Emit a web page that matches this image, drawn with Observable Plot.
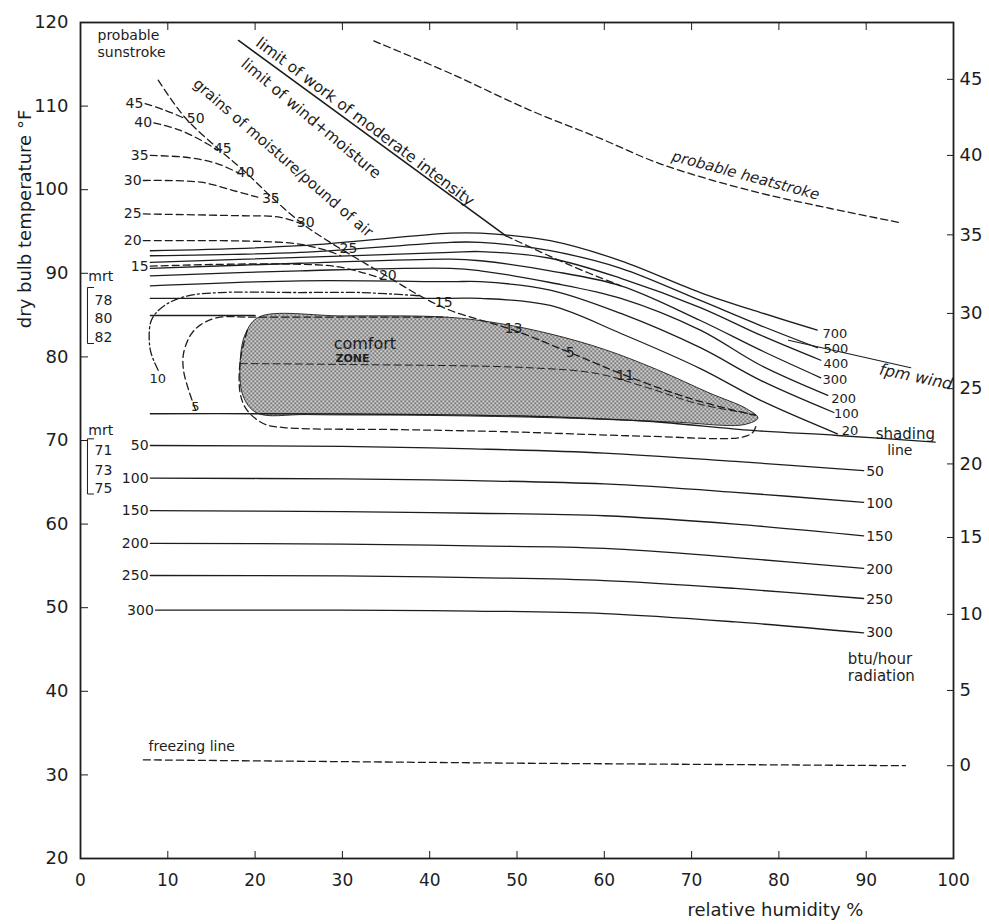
<!DOCTYPE html>
<html><head><meta charset="utf-8">
<script src="https://cdn.jsdelivr.net/npm/d3@7"></script>
<script src="https://cdn.jsdelivr.net/npm/@observablehq/plot@0.6"></script>
<style>
body{margin:0;background:#fff;}
svg text{font-family:"DejaVu Sans",sans-serif;}
</style></head><body><div id="chart"></div>
<script>
const INK = "#1d1d1d";
// axes
const xTicks = [0,10,20,30,40,50,60,70,80,90,100];
const yTicks = [20,30,40,50,60,70,80,90,100,110,120];
const topTicks = [10,20,30,40,50,60,70,80,90];
const celsiusTickF = [113.2,104.1,94.6,85.2,76.2,67.2,58.4,49.2,40.1,31.1];
const celsiusTickLabels = ["45","40","35","30","25","20","15","10","5","0"];

// wind lines (fpm) [RH %, °F]
const wind700 = [[8,92.7],[25.2,93.3],[42.4,94.8],[45.8,94.8],[53.8,93.9],[61.9,91.5],[71.0,87.7],[77.9,85.3],[84.4,83.2]];
const wind500 = [[8,92.1],[25.2,92.5],[42.4,93.7],[45.8,93.7],[53.8,92.7],[61.9,90.6],[71.0,86.75],[77.9,83.75],[84.4,81.1]];
const wind400 = [[8,91.3],[25.2,91.9],[42.4,92.5],[45.8,92.6],[53.8,91.8],[61.9,89.4],[71.0,85.9],[77.9,82.6],[84.8,79.6]];
const wind300 = [[8,90.6],[25.2,91.2],[42.4,91.7],[45.8,91.5],[53.8,90.3],[61.9,88.5],[71.0,84.35],[77.9,80.8],[84.8,77.5]];
const wind200 = [[8,89.7],[25.2,90.3],[42.4,90.6],[45.8,90.3],[53.8,88.9],[61.9,87.0],[71.0,83.2],[77.9,79.0],[85.6,75.4]];
const wind100 = [[8,88.5],[25.2,89.1],[42.4,89.0],[45.8,89.0],[53.8,88.0],[61.9,85.2],[71.0,81.1],[77.9,77.2],[86.3,73.35]];
const wind20  = [[8,87.0],[25.2,87.0],[42.4,87.0],[45.8,87.0],[53.8,86.15],[61.9,82.8],[71.0,78.6],[77.9,74.8],[86.7,70.8]];
const windSeries = [wind700, wind500, wind400, wind300, wind200, wind100, wind20];
const windLabels = ["700","500","400","300","200","100","20"];
const windLabelRH = [85.0,85.1,85.1,85.0,86.0,86.3,87.2];
const windLabelF = [82.8,81.0,79.2,77.2,75.0,73.2,71.1];
const windPointer = [[81.1,82.0],[95.1,78.7]];

// radiation lines (btu/hour)
const rad50  = [[8,69.4],[30,69.3],[45,69.0],[60,68.5],[75,67.5],[89.7,66.4]];
const rad100 = [[8,65.5],[30,65.4],[45,65.2],[60,64.8],[75,63.8],[89.7,62.6]];
const rad150 = [[8,61.6],[30,61.5],[45,61.3],[60,61.0],[75,60.0],[89.7,58.6]];
const rad200 = [[8,57.7],[30,57.6],[45,57.4],[60,57.1],[75,56.0],[89.7,54.7]];
const rad250 = [[8,53.85],[30,53.8],[45,53.6],[60,53.25],[75,52.3],[89.7,51.1]];
const rad300 = [[8.6,49.7],[30,49.7],[45,49.6],[60,49.3],[75,48.3],[89.7,47.0]];
const radSeries = [rad50, rad100, rad150, rad200, rad250, rad300];
const radLabels = ["50","100","150","200","250","300"];
const radRightF = [66.3,62.5,58.5,54.6,51.0,47.0];

// grains of moisture lines
const grain45 = [[7.4,110.3],[9.7,109.5],[12.0,108.5]];
const grain40 = [[8.4,108.0],[11.45,107.1],[14.5,105.5],[15.7,104.7]];
const grain35 = [[8.0,104.1],[12.3,103.85],[15.7,103.1],[18.3,101.9]];
const grain30 = [[7.2,101.1],[13.75,100.9],[17.5,99.9],[20.3,99.1]];
const grain25 = [[7.2,97.1],[17.5,96.9],[22.9,96.7],[25.2,95.95]];
const grain20 = [[7.2,93.9],[24.2,93.6],[28.3,92.7],[29.8,92.1]];
const grain15 = [[8.0,90.85],[29.0,90.85],[34.4,89.4]];
const grainSeries = [grain45, grain40, grain35, grain30, grain25, grain20, grain15];
const grainLabels = ["45","40","35","30","25","20","15"];
const grain10 = [[8.9,78.4],[8.0,80.8],[8.0,84.0],[8.6,85.2],[10.0,86.4],[12.3,87.3],[16.0,87.7],[25.2,87.7],[32.1,87.7],[38.9,87.3]];
const grain5 = [[13.2,73.6],[12.4,76.0],[11.8,78.4],[11.8,80.4],[12.6,82.6],[13.7,83.8],[15.7,84.7],[20.0,84.75],[42,84.75]];
const grainDiagonal = [[8.9,113.1],[12.0,108.6],[16.0,104.7],[18.9,102.1],[21.8,99.2],[25.2,96.1],[28.6,93.7],[32.1,91.5],[35.5,89.4],[38.9,87.3],[42.4,85.55],[49.6,83.2],[56.1,80.5],[62.4,77.8],[69.9,75.0],[77.3,73.0]];
const diagLabels = ["50","45","40","35","30","25","20","15","13","5","11"];
const diagLabelRH = [13.2,16.3,18.9,21.8,25.8,30.7,35.2,41.6,49.6,56.1,62.4];
const diagLabelF = [108.5,104.9,102.1,98.9,96.1,93.0,89.7,86.5,83.4,80.5,77.8];

// comfort zone
const comfortZone = [[20.5,84.8],[30,84.9],[42,84.75],[48,84.0],[54,82.7],[60,80.9],[66,78.5],[72,75.7],[76.3,73.8],[77.6,72.7],[76,71.9],[68,72.2],[55,72.7],[40,73.0],[26,73.1],[20.2,73.3],[18.6,75.4],[18.3,79.6],[18.9,82.8]];
const comfortInner = [[18.3,79.2],[30,79.1],[51.5,78.7],[59.2,78.0],[65.0,76.3],[70.7,74.4],[77.3,73.1]];
const comfortLower = [[19.1,83.16],[18.3,79.57],[18.3,75.6],[19.1,73.6],[21.0,72.0],[23.3,71.55],[36.65,71.3],[48.1,71.07],[65.3,70.5],[75.6,70.36],[77.0,70.96],[77.4,71.8]];
const comfortUpperLine = [[8,84.95],[20,84.95]];
const shadingLine = [[8,73.2],[20,73.2],[40,73.1],[55,72.8],[65,72.3],[77,71.2],[86.7,70.6],[97.9,69.8]];

// limits
const limitWorkSolid = [[18.1,117.85],[48.7,94.5]];
const limitWorkDashed = [[48.7,94.5],[56,91.0],[61.9,88.5]];
const heatstroke = [[33.6,117.8],[42.4,113.9],[51.5,109.5],[59.6,106.1],[66.4,103.1],[76.7,99.9],[85.9,97.75],[93.7,96.1]];
const freezing = [[7.2,31.8],[50,31.4],[94.5,31.1]];

// mrt brackets
const mrtUpperBracket = [[1.5,88.3],[0.8,88.3],[0.8,81.6],[1.5,81.6]];
const mrtLowerBracket = [[1.5,70.2],[0.8,70.2],[0.8,63.6],[1.5,63.6]];
const mrtUpper = [{t:"mrt",rh:0.9,f:89.6},{t:"78",rh:1.6,f:86.75},{t:"80",rh:1.6,f:84.6},{t:"82",rh:1.6,f:82.3}];
const mrtLower = [{t:"mrt",rh:0.9,f:71.2},{t:"71",rh:1.6,f:68.8},{t:"73",rh:1.6,f:66.4},{t:"75",rh:1.6,f:64.3}];

// free annotations
const notesStart = [
  {t:"probable",rh:1.95,f:118.4,s:14},{t:"sunstroke",rh:1.95,f:116.4,s:14},
  {t:"freezing line",rh:7.8,f:33.4,s:14},
  {t:"btu/hour",rh:87.9,f:43.9,s:15},{t:"radiation",rh:87.9,f:41.8,s:15},
  {t:"shading",rh:91.1,f:70.8,s:15},{t:"line",rh:92.4,f:68.8,s:14},
  {t:"comfort",rh:29.0,f:81.6,s:16},{t:"10",rh:7.9,f:77.4,s:13},{t:"5",rh:12.7,f:74.0,s:13}
];
const rotatedNotes = [
  {t:"limit of work of moderate intensity",rh:32.6,f:108.1,r:37,s:15.5},
  {t:"limit of wind+moisture",rh:26.4,f:108.5,r:40,s:15.5},
  {t:"grains of moisture/pound of air",rh:23.2,f:103.8,r:41,s:15},
  {t:"probable heatstroke",rh:76.2,f:101.7,r:15,s:15},
  {t:"fpm wind",rh:95.7,f:77.6,r:12,s:16}
];
const axisTitles = [
  {t:"dry bulb temperature °F",rh:-6.3,f:96.5,r:-90,ls:1.5},
  {t:"relative humidity %",rh:79.6,f:13.8,r:0,ls:1}
];

const X = d => d[0], Y = d => d[1];
const solid = (pts, o={}) => Plot.line(pts, {x:X, y:Y, stroke:INK, strokeWidth:1.3, curve:"catmull-rom", ...o});
const dashed = (pts, o={}) => solid(pts, {strokeDasharray:"7,4", ...o});

const marks = [];
// comfort zone fill
marks.push(Plot.line(comfortZone, {x:X, y:Y, fill:"url(#stipple)", stroke:INK, strokeWidth:0.9, curve:"catmull-rom-closed"}));
marks.push(dashed(comfortInner, {strokeWidth:1}));
marks.push(dashed(comfortLower));
marks.push(solid(comfortUpperLine));
marks.push(solid(shadingLine));
windSeries.forEach(s => marks.push(solid(s)));
marks.push(solid(windPointer, {curve:"linear", strokeWidth:1.1}));
radSeries.forEach(s => marks.push(solid(s)));
grainSeries.forEach(s => marks.push(dashed(s)));
marks.push(dashed(grain10, {strokeDasharray:"8,3,2,3"}));
marks.push(dashed(grain5));
marks.push(dashed(grainDiagonal));
marks.push(solid(limitWorkSolid, {curve:"linear", strokeWidth:1.6}));
marks.push(dashed(limitWorkDashed));
marks.push(dashed(heatstroke));
marks.push(dashed(freezing, {curve:"linear"}));
marks.push(solid(mrtUpperBracket, {curve:"linear", strokeWidth:1}));
marks.push(solid(mrtLowerBracket, {curve:"linear", strokeWidth:1}));

// labels
const txt = (data, o) => Plot.text(data, {fill:INK, lineAnchor:"middle", ...o});
marks.push(txt(windLabels, {x:(d,i)=>windLabelRH[i], y:(d,i)=>windLabelF[i], text:d=>d, textAnchor:"start", fontSize:13}));
marks.push(txt(radLabels, {x:(d,i)=>radSeries[i][0][0]-0.2, y:(d,i)=>radSeries[i][0][1], text:d=>d, textAnchor:"end", fontSize:14}));
marks.push(txt(radLabels, {x:90.0, y:(d,i)=>radRightF[i], text:d=>d, textAnchor:"start", fontSize:14}));
marks.push(txt(grainLabels, {x:(d,i)=>grainSeries[i][0][0]-0.2, y:(d,i)=>grainSeries[i][0][1], text:d=>d, textAnchor:"end", fontSize:14}));
marks.push(txt(diagLabels, {x:(d,i)=>diagLabelRH[i], y:(d,i)=>diagLabelF[i], text:d=>d, textAnchor:"middle", fontSize:14}));
marks.push(txt(mrtUpper, {x:"rh", y:"f", text:"t", textAnchor:"start", fontSize:14}));
marks.push(txt(mrtLower, {x:"rh", y:"f", text:"t", textAnchor:"start", fontSize:14}));
marks.push(txt(notesStart, {x:"rh", y:"f", text:"t", textAnchor:"start", fontSize:d=>d.s}));
marks.push(txt([{t:"ZONE",rh:29.2,f:79.8}], {x:"rh", y:"f", text:"t", textAnchor:"start", fontSize:11, fontWeight:"bold"}));
rotatedNotes.forEach(n => marks.push(txt([n], {x:"rh", y:"f", text:"t", rotate:n.r, textAnchor:"middle", fontSize:n.s, fontStyle:(n.t.startsWith("probable")||n.t.startsWith("fpm"))?"italic":"normal"})));
axisTitles.forEach(n => marks.push(txt([n], {x:"rh", y:"f", text:"t", rotate:n.r, textAnchor:"middle", fontSize:18, letterSpacing:n.ls})));

// axes & frame
marks.push(Plot.frame({stroke:INK, strokeWidth:1.8}));
marks.push(Plot.axisY(yTicks, {anchor:"left", tickSize:-8, tickPadding:20, fontSize:18, label:null, stroke:INK}));
marks.push(Plot.axisY(celsiusTickF, {anchor:"right", tickSize:-7, tickPadding:13, fontSize:18, label:null, tickFormat:d=>celsiusTickLabels[celsiusTickF.indexOf(d)]}));
marks.push(Plot.axisX(xTicks, {anchor:"bottom", tickSize:-7, tickPadding:22, fontSize:17, label:null}));
marks.push(Plot.axisX(topTicks, {anchor:"top", tickSize:-7, tickFormat:()=>"", label:null}));

const svg = Plot.plot({
  width: 989, height: 924,
  marginLeft: 80, marginRight: 36, marginTop: 22, marginBottom: 66,
  x: {domain:[0,100]}, y: {domain:[20,120]},
  style: {fontFamily:"DejaVu Sans, sans-serif", color:INK, background:"#fff"},
  marks
});
const ns = "http://www.w3.org/2000/svg";
const defs = document.createElementNS(ns, "defs");
const pat = document.createElementNS(ns, "pattern");
pat.setAttribute("id","stipple"); pat.setAttribute("width","4"); pat.setAttribute("height","4"); pat.setAttribute("patternUnits","userSpaceOnUse");
const bg = document.createElementNS(ns, "rect");
bg.setAttribute("width","4"); bg.setAttribute("height","4"); bg.setAttribute("fill","#cfcfcf");
pat.appendChild(bg);
[[0,0],[2,2]].forEach(([a,b]) => {
  const r = document.createElementNS(ns, "rect");
  r.setAttribute("x",a); r.setAttribute("y",b); r.setAttribute("width","1.5"); r.setAttribute("height","1.5"); r.setAttribute("fill","#3a3a3a");
  pat.appendChild(r);
});
defs.appendChild(pat);
svg.insertBefore(defs, svg.firstChild);
document.getElementById("chart").appendChild(svg);
</script></body></html>
